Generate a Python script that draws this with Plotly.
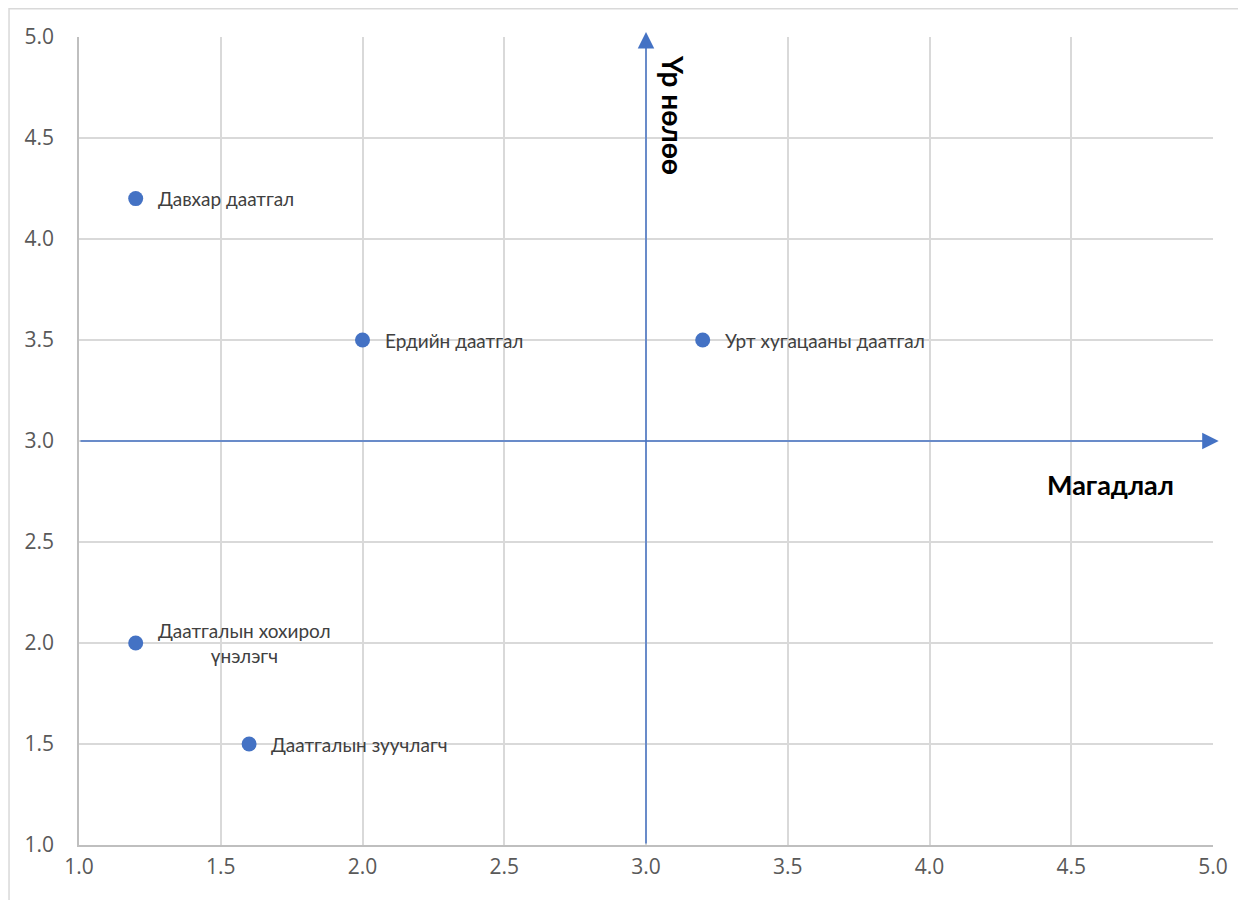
import plotly.graph_objects as go

# ---- data ----
labels = ["Давхар даатгал", "Ердийн даатгал", "Урт хугацааны даатгал",
          "Даатгалын хохирол<br>үнэлэгч", "Даатгалын зуучлагч"]
prob = [1.2, 2.0, 3.2, 1.2, 1.6]       # Магадлал (x)
impact = [4.2, 3.5, 3.5, 2.0, 1.5]     # Үр нөлөө (y)

axis_min, axis_max = 1.0, 5.0
tick_vals = [1.0, 1.5, 2.0, 2.5, 3.0, 3.5, 4.0, 4.5, 5.0]
cross_x, cross_y = 3.0, 3.0            # quadrant axes
x_title = "Магадлал"
y_title = "Үр нөлөө"

BLUE = "#4472C4"
GRID = "#d9d9d9"

fig = go.Figure()
fig.add_trace(go.Scatter(
    x=prob, y=impact, mode="markers",
    marker=dict(size=15, color=BLUE),
    hoverinfo="skip", showlegend=False,
))

annotations = []
for xv, yv, t in zip(prob, impact, labels):
    annotations.append(dict(
        x=xv, y=yv, xref="x", yref="y", text=t, showarrow=False,
        xanchor="left", yanchor="middle", xshift=20, yshift=0, align="center",
        font=dict(family="Lato", size=19, color="#404040"),
    ))

# quadrant arrows
annotations.append(dict(
    x=axis_max + 0.02, y=cross_y, ax=axis_min, ay=cross_y,
    xref="x", yref="y", axref="x", ayref="y", text="", showarrow=True,
    arrowhead=2, arrowsize=2.2, arrowwidth=1.5, arrowcolor=BLUE,
))
annotations.append(dict(
    x=cross_x, y=axis_max + 0.025, ax=cross_x, ay=axis_min,
    xref="x", yref="y", axref="x", ayref="y", text="", showarrow=True,
    arrowhead=2, arrowsize=2.2, arrowwidth=1.5, arrowcolor=BLUE,
))
# axis titles
annotations.append(dict(
    x=4.64, y=cross_y, xref="x", yref="y", text="<b>%s</b>" % x_title,
    showarrow=False, xanchor="center", yanchor="middle", yshift=-43,
    font=dict(family="Lato", size=27, color="#000000"),
))
annotations.append(dict(
    x=cross_x, y=axis_max, xref="x", yref="y", text="<b>%s</b>" % y_title,
    showarrow=False, textangle=90, xanchor="center", yanchor="top",
    xshift=27, yshift=-16,
    font=dict(family="Lato", size=28, color="#000000"),
))

fig.update_layout(
    width=1238, height=892,
    margin=dict(l=71, r=33, t=29, b=55),
    paper_bgcolor="white", plot_bgcolor="white",
    annotations=annotations,
    shapes=[dict(type="rect", xref="paper", yref="paper",
                 x0=-0.0617, x1=1.06, y0=-0.1, y1=1.0350,
                 line=dict(color="#d9d9d9", width=1.5), layer="below")],
)
tickfont = dict(family="Open Sans", size=21, color="#595959")
fig.update_xaxes(range=[axis_min, axis_max], tickvals=tick_vals,
                 tickformat=".1f", showgrid=True, gridcolor=GRID, gridwidth=1.5,
                 showline=True, linecolor="#bfbfbf", linewidth=1.5,
                 zeroline=False, ticks="", tickfont=tickfont,
                 ticklabelstandoff=2)
fig.update_yaxes(range=[axis_min, axis_max], tickvals=tick_vals,
                 tickformat=".1f", showgrid=True, gridcolor=GRID, gridwidth=1.5,
                 showline=True, linecolor="#bfbfbf", linewidth=1.5,
                 zeroline=False, ticks="", tickfont=tickfont,
                 ticklabelstandoff=19)

fig.write_html("out.html")
